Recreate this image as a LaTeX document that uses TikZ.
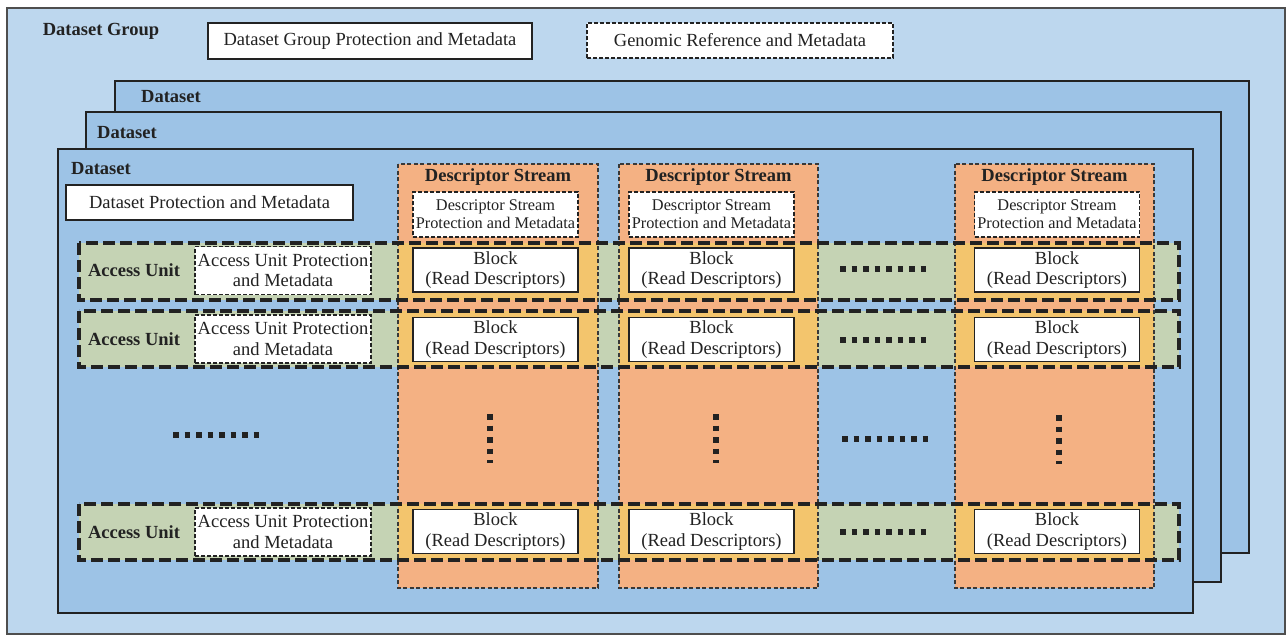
\documentclass[tikz,border=0pt]{standalone}
\usepackage{fontspec}
\setmainfont{Liberation Serif}
\usetikzlibrary{positioning}
\definecolor{groupblue}{HTML}{BDD7EE}
\definecolor{setblue}{HTML}{9DC3E6}
\definecolor{streamorange}{HTML}{F4B183}
\definecolor{unitgreen}{HTML}{C5D3B4}
\definecolor{crossyellow}{HTML}{F3C56D}
\definecolor{inkdark}{HTML}{222222}
\begin{document}
\begin{tikzpicture}[x=1pt,y=-1pt,
  every node/.style={inner sep=0pt,outer sep=0pt,text=inkdark},
  group box/.style={rectangle,draw=inkdark!80,fill=groupblue,line width=1.4pt},
  set box/.style={rectangle,draw=inkdark,fill=setblue,line width=1.4pt},
  info box/.style={rectangle,draw=inkdark,fill=white,line width=1.4pt,align=center,font=\fontsize{18.5}{20.5}\selectfont},
  info dashed/.style={info box,line width=1.2pt,dash pattern=on 4pt off 2pt},
  small info/.style={info dashed,font=\fontsize{16.3}{18}\selectfont},
  stream box/.style={rectangle,fill=streamorange,minimum width=200pt,minimum height=424pt},
  unit box/.style={rectangle,fill=unitgreen,minimum width=1100pt},
  cross box/.style={rectangle,fill=crossyellow,minimum width=200pt},
  block box/.style={info box,minimum width=165pt,minimum height=44pt},
  bold label/.style={font=\fontsize{18.5}{20}\selectfont\bfseries},
  stream frame/.style={draw=inkdark!90,line width=1.1pt,dash pattern=on 4pt off 2.5pt},
  unit frame/.style={draw=inkdark,line width=3.6pt,dash pattern=on 12pt off 5pt},
  dot line/.style={draw=inkdark,line width=5.5pt,dash pattern=on 5.5pt off 6pt}]

\useasboundingbox (0,0) rectangle (1288,635);

% outer group and the three datasets
\node[group box,minimum width=1278pt,minimum height=626pt] (group) at (646,321) {};
\node[bold label] (grouplbl) at (101,31) {Dataset Group};
\node[info box,minimum width=324pt,minimum height=36pt] (groupmeta) at (370,41) {Dataset Group Protection and Metadata};
\node[info dashed,minimum width=306pt,minimum height=35pt] (genref) at (740,40.5) {Genomic Reference and Metadata};

\node[set box,minimum width=1134pt,minimum height=472pt] (set1) at (682,317) {};
\node[bold label] (set1lbl) at (171,97) {Dataset};
\node[set box,minimum width=1135pt,minimum height=470pt] (set2) at (653.5,347) {};
\node[bold label] (set2lbl) at (127,133) {Dataset};
\node[set box,minimum width=1135pt,minimum height=464pt] (set3) at (625.5,381) {};
\node[bold label] (set3lbl) at (101,169) {Dataset};
\node[info box,minimum width=287pt,minimum height=35pt] (setmeta) at (209.5,202.5) {Dataset Protection and Metadata};

% descriptor streams and access units
\node[stream box] (s1) at (498,376) {};
\node[stream box,minimum width=199pt] (s2) at (718.5,376) {};
\node[stream box,minimum width=199pt] (s3) at (1054.5,376) {};

\node[unit box,minimum height=57pt] (au1) at (629,271.5) {};
\node[unit box,minimum height=56pt] (au2) at (629,339) {};
\node[unit box,minimum height=56pt] (au3) at (629,532) {};

\foreach \c/\x/\w in {1/498/200,2/718.5/199,3/1054.5/199}{
  \node[cross box,minimum width=\w pt,minimum height=57pt] (y1\c) at (\x,271.5) {};
  \node[cross box,minimum width=\w pt,minimum height=56pt] (y2\c) at (\x,339) {};
  \node[cross box,minimum width=\w pt,minimum height=56pt] (y3\c) at (\x,532) {};
}

\foreach \c in {1,2,3}
  \draw[stream frame] (s\c.north west) rectangle (s\c.south east);
\foreach \r in {1,2,3}
  \draw[unit frame] (au\r.north west) rectangle (au\r.south east);

\foreach \c/\x/\b in {1/498/495.5,2/718.5/711.5,3/1054.5/1057}{
  \node[bold label] (t\c) at (\x,177.5) {Descriptor Stream};
  \node[small info,minimum width=165pt,minimum height=45pt] (m\c) at (\b,214.5) {Descriptor Stream\\Protection and Metadata};
  \node[block box] (b1\c) at (\b,270) {Block\\(Read Descriptors)};
  \node[block box] (b2\c) at (\b,339.5) {Block\\(Read Descriptors)};
  \node[block box] (b3\c) at (\b,531.5) {Block\\(Read Descriptors)};
}

\foreach \r/\y in {1/270.5,2/339,3/532}{
  \node[bold label] (aul\r) at (134,\y) {Access Unit};
  \node[info dashed,minimum width=176pt,minimum height=48pt] (aum\r) at (283,\y) {Access Unit Protection\\and Metadata};
}

% ellipsis dots
\draw[dot line] (840,269) -- (926,269);
\draw[dot line] (840,340) -- (926,340);
\draw[dot line] (840,532) -- (926,532);
\draw[dot line] (173,435) -- (259,435);
\draw[dot line] (842,439) -- (928,439);
\draw[dot line] (490,414) -- (490,462.5);
\draw[dot line] (716,414) -- (716,462.5);
\draw[dot line] (1059,415) -- (1059,463.5);

\end{tikzpicture}
\end{document}
